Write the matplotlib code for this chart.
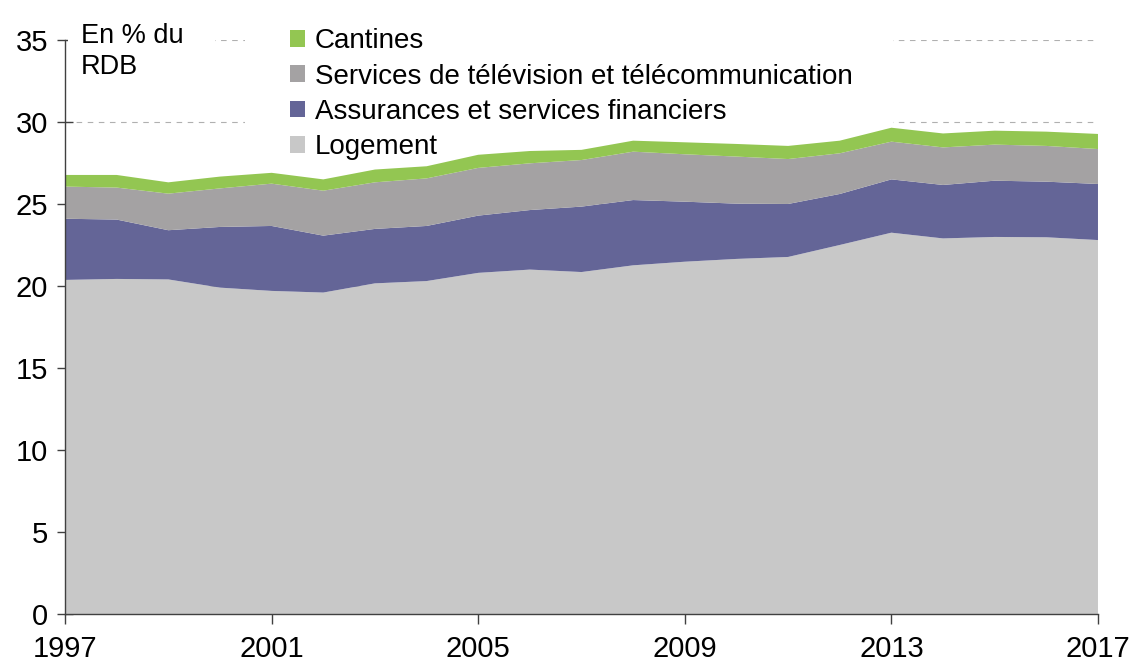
import numpy as np
import matplotlib.pyplot as plt
from matplotlib.patches import Rectangle

plt.rcParams['font.family'] = ['Liberation Sans', 'DejaVu Sans']

years = list(range(1997, 2018))

# parts du RDB, en %
logement = [20.37, 20.43, 20.40, 19.90, 19.70, 19.60, 20.16, 20.30, 20.80, 21.00, 20.85,
            21.26, 21.48, 21.65, 21.77, 22.50, 23.25, 22.90, 22.99, 22.97, 22.80]
assurances = [3.73, 3.62, 3.00, 3.70, 3.96, 3.47, 3.32, 3.36, 3.49, 3.63, 3.99,
              3.98, 3.66, 3.37, 3.23, 3.11, 3.25, 3.26, 3.43, 3.39, 3.42]
television = [1.96, 1.95, 2.23, 2.35, 2.58, 2.74, 2.84, 2.90, 2.91, 2.85, 2.84,
              2.95, 2.89, 2.87, 2.74, 2.48, 2.30, 2.29, 2.20, 2.18, 2.13]
cantines = [0.71, 0.77, 0.69, 0.72, 0.66, 0.69, 0.78, 0.74, 0.80, 0.75, 0.62,
            0.67, 0.73, 0.77, 0.80, 0.77, 0.85, 0.85, 0.85, 0.87, 0.92]

labels = ['Logement', 'Assurances et services financiers',
          'Services de télévision et télécommunication', 'Cantines']
colors = ['#c8c8c8', '#646597', '#a4a2a3', '#93c652']

fig = plt.figure(figsize=(11.31, 6.64), dpi=100)
ax = fig.add_axes([0.0575, 0.0753, 0.9133, 0.8645])

polys = ax.stackplot(years, logement, assurances, television, cantines,
                     colors=colors, labels=labels, zorder=2, linewidth=0)

ax.set_xlim(1997, 2017)
ax.set_ylim(0, 35)
ax.set_xticks(range(1997, 2018, 4))
ax.set_yticks(range(0, 36, 5))

ax.set_axisbelow(True)
ax.yaxis.grid(True, linestyle=(0, (5, 5)), color='#b0b0b0', linewidth=0.8)

for s in ['top', 'right']:
    ax.spines[s].set_visible(False)
for s in ['left', 'bottom']:
    ax.spines[s].set_color('#404040')
    ax.spines[s].set_linewidth(1.0)
    ax.spines[s].set_zorder(3)

ax.tick_params(axis='y', direction='inout', length=12, width=1, color='#404040',
               labelsize=21, pad=6)
ax.tick_params(axis='x', direction='out', length=7, width=1, color='#404040',
               labelsize=21, pad=8)

# white areas behind the legend and the unit label, they hide the grid there
ax.add_patch(Rectangle((0.174, 0.81), 0.628, 0.22, transform=ax.transAxes,
                       facecolor='white', edgecolor='none', zorder=1, clip_on=False))
ax.add_patch(Rectangle((0.003, 0.95), 0.142, 0.08, transform=ax.transAxes,
                       facecolor='white', edgecolor='none', zorder=1, clip_on=False))

ax.text(0.015, 1.03, 'En % du\nRDB', transform=ax.transAxes, fontsize=19.5,
        va='top', ha='left', linespacing=1.25, zorder=2)

handles, labs = ax.get_legend_handles_labels()
leg = ax.legend(handles[::-1], labs[::-1], loc='upper left',
                bbox_to_anchor=(0.218, 1.02), frameon=False, fontsize=20,
                handlelength=0.55, handleheight=0.55, handletextpad=0.33,
                labelspacing=0.33, borderpad=0, borderaxespad=0)
leg.set_zorder(5)

fig.savefig('out.png', dpi=100)
